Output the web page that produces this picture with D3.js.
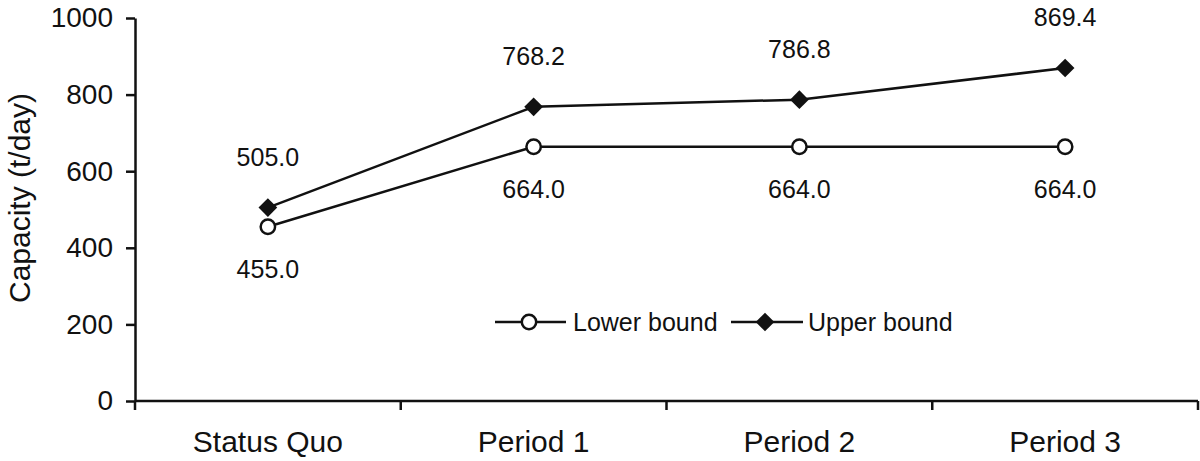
<!DOCTYPE html>
<html>
<head>
<meta charset="utf-8">
<script src="https://cdn.jsdelivr.net/npm/d3@7"></script>
<style>
  body { margin: 0; background: #fff; }
  text { font-family: "Liberation Sans", Arial, sans-serif; fill: #111; }
</style>
</head>
<body>
<script>
const categories = ["Status Quo", "Period 1", "Period 2", "Period 3"]
const lowerBound = [455.0, 664.0, 664.0, 664.0]
const upperBound = [505.0, 768.2, 786.8, 869.4]
const yTicks = [0, 200, 400, 600, 800, 1000]

const svgWidth = 1200
const svgHeight = 461

const margin = { top: 18, right: 2, bottom: 60, left: 135 }

const svg = d3.select("body").append("svg")
    .attr("width", svgWidth)
    .attr("height", svgHeight)

const x = d3.scaleBand()
    .domain(categories)
    .range([margin.left, svgWidth - margin.right])

const y = d3.scaleLinear()
    .domain([0, 1000])
    .range([svgHeight - margin.bottom, margin.top])

const cx = c => x(c) + x.bandwidth() / 2

// y axis
const yAxis = d3.axisLeft(y)
    .tickValues(yTicks)
    .tickFormat(d3.format("d"))
    .tickSize(9)
    .tickSizeOuter(0)
    .tickPadding(13)
const yG = svg.append("g")
    .attr("transform", `translate(${margin.left}, 0)`)
    .call(yAxis)
yG.select(".domain").attr("stroke", "#111").attr("stroke-width", 2.5)
yG.selectAll(".tick line").attr("stroke", "#111").attr("stroke-width", 2.5)
yG.selectAll(".tick text").style("font-size", "28px").attr("fill", "#111")

// x axis: ticks between categories
const xG = svg.append("g")
const x0 = y(0)
xG.append("line")
    .attr("x1", margin.left).attr("x2", svgWidth - margin.right)
    .attr("y1", x0).attr("y2", x0)
    .attr("stroke", "#111").attr("stroke-width", 2.5)
const bounds = categories.map(c => x(c)).concat([x.range()[1]])
xG.selectAll(".xtick")
    .data(bounds)
    .enter()
    .append("line")
    .attr("x1", d => d).attr("x2", d => d)
    .attr("y1", x0).attr("y2", x0 + 9)
    .attr("stroke", "#111").attr("stroke-width", 2.5)
xG.selectAll(".xlabel")
    .data(categories)
    .enter()
    .append("text")
    .attr("x", d => cx(d))
    .attr("y", 452)
    .attr("text-anchor", "middle")
    .style("font-size", "30px")
    .text(d => d)

// y axis title
svg.append("text")
    .attr("transform", `translate(30, 198) rotate(-90)`)
    .attr("text-anchor", "middle")
    .style("font-size", "30px")
    .text("Capacity (t/day)")

const line = d3.line()
    .x((d, i) => cx(categories[i]))
    .y(d => y(d))

svg.append("path")
    .attr("d", line(lowerBound))
    .attr("fill", "none")
    .attr("stroke", "#111")
    .attr("stroke-width", 2.5)

svg.append("path")
    .attr("d", line(upperBound))
    .attr("fill", "none")
    .attr("stroke", "#111")
    .attr("stroke-width", 2.5)

const diamond = d3.symbol().type(d3.symbolSquare).size(175)

svg.selectAll(".lowerPt")
    .data(lowerBound)
    .enter()
    .append("circle")
    .attr("cx", (d, i) => cx(categories[i]))
    .attr("cy", d => y(d))
    .attr("r", 7.2)
    .attr("fill", "#fff")
    .attr("stroke", "#111")
    .attr("stroke-width", 2.5)

svg.selectAll(".upperPt")
    .data(upperBound)
    .enter()
    .append("path")
    .attr("d", diamond)
    .attr("transform", (d, i) => `translate(${cx(categories[i])}, ${y(d)}) rotate(45)`)
    .attr("fill", "#111")

// value labels
svg.selectAll(".upperLabel")
    .data(upperBound)
    .enter()
    .append("text")
    .attr("x", (d, i) => cx(categories[i]))
    .attr("y", d => y(d) - 42)
    .attr("text-anchor", "middle")
    .style("font-size", "25px")
    .text(d => d.toFixed(1))

svg.selectAll(".lowerLabel")
    .data(lowerBound)
    .enter()
    .append("text")
    .attr("x", (d, i) => cx(categories[i]))
    .attr("y", d => y(d) + 51)
    .attr("text-anchor", "middle")
    .style("font-size", "25px")
    .text(d => d.toFixed(1))

// legend
const legend = svg.append("g").attr("transform", "translate(0, 322)")

legend.append("line")
    .attr("x1", 495).attr("x2", 566).attr("y1", 0).attr("y2", 0)
    .attr("stroke", "#111").attr("stroke-width", 2.5)
legend.append("circle")
    .attr("cx", 529).attr("cy", 0).attr("r", 7.2)
    .attr("fill", "#fff").attr("stroke", "#111").attr("stroke-width", 2.5)
legend.append("text")
    .attr("x", 573).attr("y", 9)
    .style("font-size", "25px")
    .text("Lower bound")

legend.append("line")
    .attr("x1", 731).attr("x2", 803).attr("y1", 0).attr("y2", 0)
    .attr("stroke", "#111").attr("stroke-width", 2.5)
legend.append("path")
    .attr("d", diamond)
    .attr("transform", "translate(765, 0) rotate(45)")
    .attr("fill", "#111")
legend.append("text")
    .attr("x", 808).attr("y", 9)
    .style("font-size", "25px")
    .text("Upper bound")
</script>
</body>
</html>
